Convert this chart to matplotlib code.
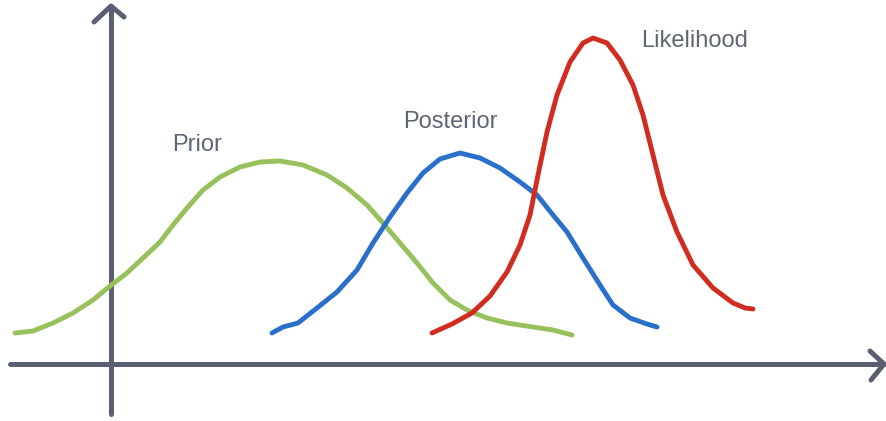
import matplotlib.pyplot as plt

# Curves, in pixel-like coordinates (y grows downward)
prior_x = [15, 33, 53, 73, 93, 110, 127, 143, 160, 173, 187, 203, 220, 240,
           260, 280, 303, 327, 347, 367, 383, 400, 417, 433, 450, 467, 487,
           507, 533, 553, 572]
prior_y = [333, 331, 323, 313, 300, 286, 273, 258, 242, 225, 208, 190, 177,
           167, 162, 161, 165, 175, 188, 205, 223, 243, 263, 283, 300, 310,
           318, 323, 327, 330, 335]

post_x = [272, 283, 298, 317, 337, 357, 373, 390, 407, 423, 440, 460, 480,
          500, 520, 537, 553, 567, 583, 600, 613, 630, 647, 657]
post_y = [333, 327, 323, 308, 292, 270, 243, 217, 193, 173, 159, 153, 158,
          168, 182, 195, 215, 232, 258, 285, 305, 318, 324, 327]

like_x = [432, 452, 472, 490, 507, 520, 530, 538, 547, 557, 570, 583, 593,
          607, 620, 633, 643, 653, 663, 677, 693, 713, 733, 745, 753]
like_y = [333, 324, 313, 296, 272, 245, 215, 175, 132, 95, 62, 43, 38, 43,
          60, 85, 115, 155, 195, 232, 265, 288, 303, 308, 309]

labels = ['Prior', 'Posterior', 'Likelihood']
label_x = [197, 450, 695]
label_y = [151, 128, 47]

axis_col = '#5a6072'
text_col = '#5f6578'

fig = plt.figure(figsize=(8.86, 4.21), dpi=100)
ax = fig.add_axes([0, 0, 1, 1])
ax.set_xlim(0, 886)
ax.set_ylim(421, 0)
ax.axis('off')

# axes with hand-drawn arrow heads
kw = dict(color=axis_col, lw=3.6, solid_capstyle='round', solid_joinstyle='round')
ax.plot([111, 111], [414, 6], **kw)
ax.plot([94, 111, 124], [22, 6, 17], **kw)
ax.plot([10, 884], [364, 364], **kw)
ax.plot([870, 884, 871], [351, 364, 380], **kw)

ckw = dict(lw=3.5, solid_capstyle='round', solid_joinstyle='round')
ax.plot(prior_x, prior_y, color='#97c15c', **ckw)
ax.plot(post_x, post_y, color='#2a6fc9', **ckw)
ax.plot(like_x, like_y, color='#d22b1f', **ckw)

for s, x, y in zip(labels, label_x, label_y):
    ax.text(x, y, s, ha='center', va='baseline', fontsize=17,
            family='Liberation Sans', color=text_col)

plt.savefig('out.png', dpi=100)
